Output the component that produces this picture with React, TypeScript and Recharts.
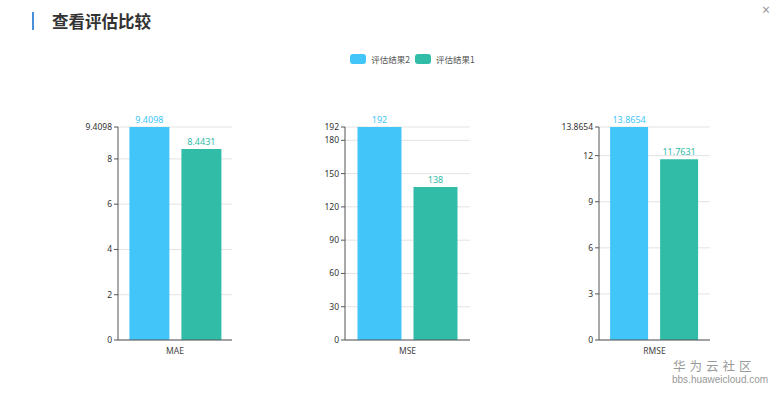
import React from "react";
import { BarChart, Bar, XAxis, YAxis, CartesianGrid, LabelList } from "recharts";

const categories = ["MAE", "MSE", "RMSE"];
const series2 = [9.4098, 192, 13.8654]; // 评估结果2
const series1 = [8.4431, 138, 11.7631]; // 评估结果1
const tickSets = [
  [0, 2, 4, 6, 8, 9.4098],
  [0, 30, 60, 90, 120, 150, 180, 192],
  [0, 3, 6, 9, 12, 13.8654],
];
const seriesNames = ["评估结果2", "评估结果1"];
const title = "查看评估比较";

const BLUE = "#42c6f9";
const GREEN = "#31bca8";
const FONT = '"Noto Sans", "Noto Sans CJK SC", sans-serif';

const layouts = [
  { left: 58, width: 184 },
  { left: 285, width: 195 },
  { left: 539, width: 181 },
];

function OneChart({ idx }: { idx: number }) {
  const data = [{ name: categories[idx], s2: series2[idx], s1: series1[idx] }];
  const ticks = tickSets[idx];
  const max = ticks[ticks.length - 1];
  const lay = layouts[idx];
  return (
    <div style={{ position: "absolute", left: lay.left, top: 100 }}>
      <BarChart
        width={lay.width}
        height={270}
        data={data}
        margin={{ top: 27, right: 10, left: 0, bottom: 10 }}
        barCategoryGap="10%"
        barGap={12}
      >
        <CartesianGrid vertical={false} stroke="#e3e3e3" />
        <XAxis
          dataKey="name"
          stroke="#555"
          tickLine={false}
          tick={{ fill: "#444", fontSize: 8.5, fontFamily: FONT }}
          height={20}
          tickMargin={2}
        />
        <YAxis
          domain={[0, max]}
          ticks={ticks}
          interval={0}
          width={60}
          stroke="#555"
          tickSize={4}
          tick={{ fill: "#333", fontSize: 8.5, fontFamily: FONT }}
          tickFormatter={(v: number) => String(v)}
        />
        <Bar dataKey="s2" fill={BLUE} isAnimationActive={false}>
          <LabelList dataKey="s2" position="top" fill={BLUE} fontSize={9} fontFamily={FONT} offset={4} />
        </Bar>
        <Bar dataKey="s1" fill={GREEN} isAnimationActive={false}>
          <LabelList dataKey="s1" position="top" fill={GREEN} fontSize={9} fontFamily={FONT} offset={4} />
        </Bar>
      </BarChart>
    </div>
  );
}

export default function App() {
  return (
    <div
      style={{
        position: "absolute",
        left: 0,
        top: 0,
        width: 771,
        height: 393,
        background: "#fff",
        fontFamily: FONT,
        overflow: "hidden",
      }}
    >
      <div style={{ position: "absolute", left: 32, top: 12, width: 2, height: 18, background: "#4a90d9" }} />
      <div
        style={{
          position: "absolute",
          left: 52,
          top: 8,
          fontSize: 16.5,
          fontWeight: 700,
          color: "#333",
          fontFamily: '"Noto Sans CJK SC", sans-serif',
          lineHeight: "26px",
        }}
      >
        {title}
      </div>
      <div style={{ position: "absolute", left: 762, top: 0, fontSize: 14, color: "#999" }}>×</div>
      <div
        style={{
          position: "absolute",
          left: 0,
          width: 771,
          top: 53,
          display: "flex",
          justifyContent: "center",
          alignItems: "center",
          fontSize: 8.5,
          color: "#555",
          fontFamily: '"Noto Sans CJK SC", sans-serif',
          paddingLeft: 54,
          boxSizing: "border-box",
        }}
      >
        {seriesNames.map((n, i) => (
          <div key={n} style={{ display: "flex", alignItems: "center", marginRight: i === 0 ? 5 : 0 }}>
            <div
              style={{
                width: 16,
                height: 10,
                borderRadius: 3,
                background: i === 0 ? BLUE : GREEN,
                marginRight: 5,
              }}
            />
            <span>{n}</span>
          </div>
        ))}
      </div>
      {categories.map((_, i) => (
        <OneChart key={i} idx={i} />
      ))}
      <div
        style={{
          position: "absolute",
          left: 673,
          top: 358,
          fontSize: 12.5,
          color: "#999",
          letterSpacing: 4,
          fontFamily: '"Noto Sans CJK SC", sans-serif',
          lineHeight: "15px",
        }}
      >
        华为云社区
      </div>
      <div
        style={{
          position: "absolute",
          left: 672,
          top: 374,
          fontSize: 10,
          color: "#999",
          lineHeight: "11px",
          fontFamily: '"Liberation Sans", sans-serif',
        }}
      >
        bbs.huaweicloud.com
      </div>
    </div>
  );
}
